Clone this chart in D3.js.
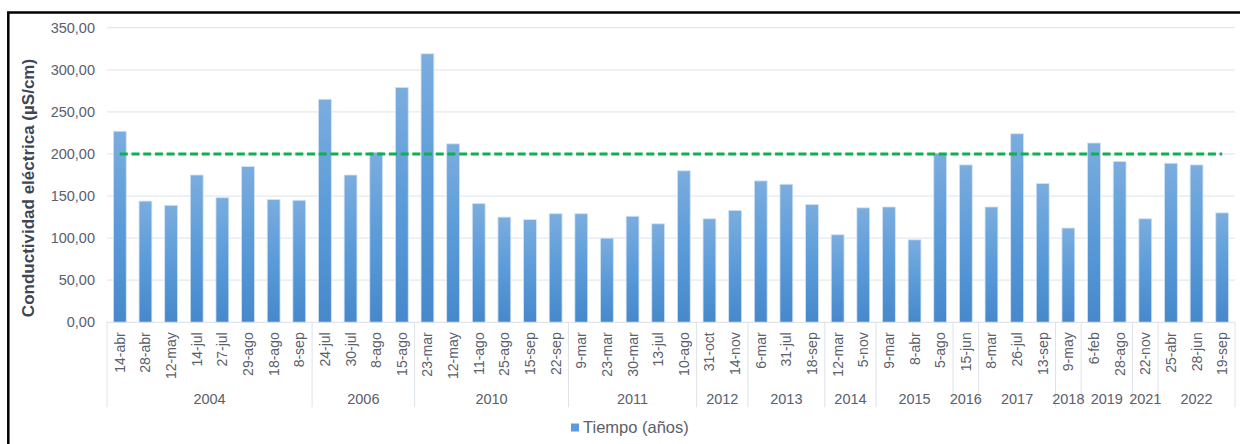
<!DOCTYPE html>
<html>
<head>
<meta charset="utf-8">
<script src="https://cdn.jsdelivr.net/npm/d3@7"></script>
<style>
  body { margin: 0; background: #fff; }
  svg { display: block; font-family: "Liberation Sans", Arial, sans-serif; }
</style>
</head>
<body>
<svg id="vis"></svg>
<script>
//DATOS--------------------------------------------------------------------------------------------
const FECHAS = [
  "14-abr", "28-abr", "12-may", "14-jul", "27-jul", "29-ago", "18-ago", "8-sep",
  "24-jul", "30-jul", "8-ago", "15-ago",
  "23-mar", "12-may", "11-ago", "25-ago", "15-sep", "22-sep",
  "9-mar", "23-mar", "30-mar", "13-jul", "10-ago",
  "31-oct", "14-nov",
  "6-mar", "31-jul", "18-sep",
  "12-mar", "5-nov",
  "9-mar", "8-abr", "5-ago",
  "15-jun",
  "8-mar", "26-jul", "13-sep",
  "9-may",
  "6-feb", "28-ago",
  "22-nov",
  "25-abr", "28-jun", "19-sep",
];
const ANIOS = [
  "2004", "2004", "2004", "2004", "2004", "2004", "2004", "2004",
  "2006", "2006", "2006", "2006",
  "2010", "2010", "2010", "2010", "2010", "2010",
  "2011", "2011", "2011", "2011", "2011",
  "2012", "2012",
  "2013", "2013", "2013",
  "2014", "2014",
  "2015", "2015", "2015",
  "2016",
  "2017", "2017", "2017",
  "2018",
  "2019", "2019",
  "2021",
  "2022", "2022", "2022",
];
const CONDUCTIVIDAD = [
  227, 144, 139, 175, 148, 185, 146, 145,
  265, 175, 202, 279,
  319, 212, 141, 125, 122, 129,
  129, 100, 126, 117, 180,
  123, 133,
  168, 164, 140,
  104, 136,
  137, 98, 201,
  187,
  137, 224, 165,
  112,
  213, 191,
  123,
  189, 187, 130,
];
const LIMITE = 200;
const TICKS_Y = [0, 50, 100, 150, 200, 250, 300, 350];

//VARIABLES CONSTANTES-----------------------------------------------------------------------------
const WIDTH = 1240;
const HEIGHT = 444;
const MARGIN = { top: 27.7, bottom: 121.7, left: 107, right: 5 };
const COLOR_TEXTO = "#5a606c";
const COLOR_LINEAS = "#e4e8ee";

const svg = d3.select("#vis").attr("width", WIDTH).attr("height", HEIGHT);

//GRADIENTE DE LAS BARRAS--------------------------------------------------------------------------
const grad = svg
  .append("defs")
  .append("linearGradient")
  .attr("id", "azul")
  .attr("x1", 0)
  .attr("y1", 0)
  .attr("x2", 0)
  .attr("y2", 1);
grad.append("stop").attr("offset", "0%").attr("stop-color", "#7badde");
grad.append("stop").attr("offset", "50%").attr("stop-color", "#5b9bd9");
grad.append("stop").attr("offset", "100%").attr("stop-color", "#4688cb");

//ESCALAS------------------------------------------------------------------------------------------
const escalaX = d3
  .scaleBand()
  .domain(d3.range(FECHAS.length))
  .range([MARGIN.left, WIDTH - MARGIN.right])
  .paddingInner(0.5)
  .paddingOuter(0.25);

const escalaY = d3
  .scaleLinear()
  .domain([0, 350])
  .range([HEIGHT - MARGIN.bottom, MARGIN.top]);

const coma = d3.formatLocale({ decimal: ",", thousands: ".", grouping: [3], currency: ["", ""] });
const formato = coma.format(".2f");

//EJE Y Y GRILLA-----------------------------------------------------------------------------------
const ejeY = d3.axisLeft(escalaY).tickValues(TICKS_Y).tickFormat(formato).tickSize(0).tickPadding(12);
const gY = svg
  .append("g")
  .attr("transform", `translate(${MARGIN.left}, 0)`)
  .call(ejeY);
gY.select(".domain").remove();
gY.selectAll("text")
  .style("font-size", "14.5px")
  .style("fill", COLOR_TEXTO)
  .style("font-family", "Liberation Sans, Arial, sans-serif");

svg
  .append("g")
  .selectAll("line")
  .data(TICKS_Y.filter((d) => d > 0))
  .join("line")
  .attr("x1", MARGIN.left)
  .attr("x2", WIDTH - MARGIN.right)
  .attr("y1", (d) => escalaY(d))
  .attr("y2", (d) => escalaY(d))
  .attr("stroke", COLOR_LINEAS)
  .attr("stroke-width", 1.3);

svg
  .append("text")
  .attr("transform", `translate(33.5, 188) rotate(-90)`)
  .attr("text-anchor", "middle")
  .style("font-size", "17px")
  .style("font-weight", "bold")
  .style("fill", "#3e4654")
  .text("Conductividad eléctrica (µS/cm)");

//BARRAS-------------------------------------------------------------------------------------------
svg
  .append("g")
  .selectAll("rect")
  .data(CONDUCTIVIDAD)
  .join("rect")
  .attr("x", (d, i) => escalaX(i))
  .attr("y", (d) => escalaY(d))
  .attr("width", escalaX.bandwidth())
  .attr("height", (d) => escalaY(0) - escalaY(d))
  .attr("fill", "url(#azul)")
  .attr("stroke", "#d3e3f4")
  .attr("stroke-width", 0.8)
  .append("title")
  .text((d, i) => `${FECHAS[i]} ${ANIOS[i]}: ${formato(d)}`);

//LINEA LIMITE-------------------------------------------------------------------------------------
const primero = escalaX(0) + escalaX.bandwidth() / 2;
const ultimo = escalaX(FECHAS.length - 1) + escalaX.bandwidth() / 2;
svg
  .append("line")
  .attr("x1", primero)
  .attr("x2", ultimo)
  .attr("y1", escalaY(LIMITE))
  .attr("y2", escalaY(LIMITE))
  .attr("stroke", "#0fb04f")
  .attr("stroke-width", 3)
  .attr("stroke-dasharray", "8 3.7");

//EJE X (FECHAS Y AÑOS)----------------------------------------------------------------------------
const y0 = escalaY(0);
const paso = escalaX.step();
const inicioX = MARGIN.left;

svg
  .append("line")
  .attr("x1", inicioX)
  .attr("x2", WIDTH - MARGIN.right)
  .attr("y1", y0)
  .attr("y2", y0)
  .attr("stroke", "#d9dfe7")
  .attr("stroke-width", 1);

svg
  .append("g")
  .selectAll("text")
  .data(FECHAS)
  .join("text")
  .attr("transform", (d, i) => `translate(${escalaX(i) + escalaX.bandwidth() / 2 + 5}, ${y0 + 10}) rotate(-90)`)
  .attr("text-anchor", "end")
  .style("font-size", "14px")
  .style("fill", COLOR_TEXTO)
  .text((d) => d);

// grupos por año
const grupos = [];
ANIOS.forEach((a, i) => {
  const ult = grupos[grupos.length - 1];
  if (ult && ult.anio === a) ult.fin = i;
  else grupos.push({ anio: a, ini: i, fin: i });
});

const bordes = [0].concat(grupos.map((g) => g.fin + 1));
svg
  .append("g")
  .selectAll("line")
  .data(bordes)
  .join("line")
  .attr("x1", (d) => inicioX + d * paso)
  .attr("x2", (d) => inicioX + d * paso)
  .attr("y1", y0)
  .attr("y2", y0 + 85)
  .attr("stroke", "#dde3ea")
  .attr("stroke-width", 1);

svg
  .append("g")
  .selectAll("text")
  .data(grupos)
  .join("text")
  .attr("x", (d) => inicioX + ((d.ini + d.fin + 1) / 2) * paso)
  .attr("y", y0 + 82)
  .attr("text-anchor", "middle")
  .style("font-size", "14.5px")
  .style("fill", COLOR_TEXTO)
  .text((d) => d.anio);

//LEYENDA------------------------------------------------------------------------------------------
svg
  .append("rect")
  .attr("x", 571)
  .attr("y", 423.5)
  .attr("width", 8)
  .attr("height", 8)
  .attr("fill", "#5b9bd9");
svg
  .append("text")
  .attr("x", 583)
  .attr("y", 432.5)
  .style("font-size", "16.5px")
  .style("fill", COLOR_TEXTO)
  .text("Tiempo (años)");

//MARCO--------------------------------------------------------------------------------------------
svg
  .append("rect")
  .attr("x", 8.3)
  .attr("y", 12.5)
  .attr("width", 1300)
  .attr("height", 600)
  .attr("fill", "none")
  .attr("stroke", "#000")
  .attr("stroke-width", 2.5);
</script>
</body>
</html>
